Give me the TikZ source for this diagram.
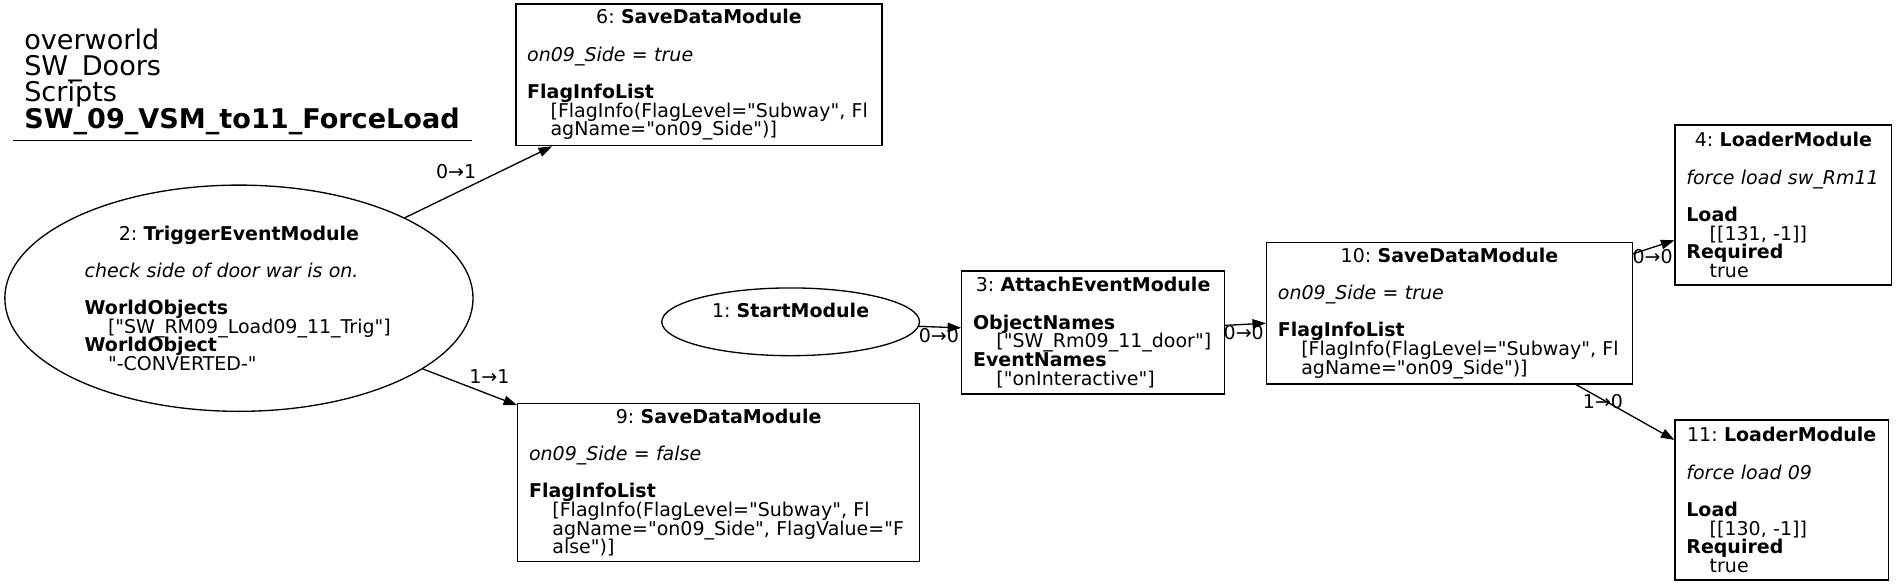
\documentclass[tikz,border=0pt]{standalone}
\usepackage{fontspec}
\setmainfont{DejaVu Sans}[Ligatures=TeXOff, ItalicFont={DejaVu Sans Oblique}, BoldFont={DejaVu Sans Bold}]
\usepackage{tikz}
\usetikzlibrary{shapes.geometric, arrows.meta}

\newcommand{\Mfont}{\fontsize{15.7pt}{15.4pt}\selectfont\lineskiplimit=-100pt\frenchspacing}
\newcommand{\Tfont}{\fontsize{22.4pt}{21.8pt}\selectfont\lineskiplimit=-100pt}
\newcommand{\Mhead}[2]{\hspace*{\fill}\mbox{#1: \textbf{#2}}\hspace*{\fill}\null}
\newcommand{\Mval}[1]{\hspace*{19.3pt}\mbox{#1}}
\newcommand{\Mnote}[1]{\mbox{\itshape #1}}
\newcommand{\Mgap}{\\[15.4pt]}

\begin{document}
\begin{tikzpicture}[x=1pt, y=-1pt, line width=1.1pt,
    every node/.style={font=\Mfont},
    modbox/.style={draw, rectangle, inner sep=0pt, align=left},
    modoval/.style={draw, ellipse, inner sep=0pt},
    flow/.style={-{Triangle[length=11.2pt, width=7.8pt]}},
    elabel/.style={inner sep=0pt}]
  \useasboundingbox (0,0) rectangle (1568,483.5);

  % ------------------------------------------------
  % script title, top left
  % ------------------------------------------------
  \node[font=\Tfont, align=left, inner sep=0pt, anchor=north west] (title) at (19.5,23.1)
    {overworld\\SW\_Doors\\Scripts\\\textbf{SW\_09\_VSM\_to11\_ForceLoad}};
  \draw (11,116) -- (390,116);

  % ------------------------------------------------
  % modules
  % ------------------------------------------------
  \node[modoval, minimum width=387pt, minimum height=187pt, text width=255pt, align=left] (trig) at (197.5,246.5)
    {\Mhead{2}{TriggerEventModule}\Mgap
     \Mnote{check side of door war is on.}\Mgap
     \textbf{WorldObjects}\\
     \Mval{["SW\_RM09\_Load09\_11\_Trig"]}\\
     \textbf{WorldObject}\\
     \Mval{"-CONVERTED-"}};

  \node[modoval, minimum width=213pt, minimum height=56pt, align=center] (start) at (653.5,266)
    {1: \textbf{StartModule}\\\rule[-3.7pt]{0pt}{3.7pt}};

  \node[modbox, minimum width=302.5pt, minimum height=117.1pt, text width=283.9pt] (saveA) at (577.75,61.85)
    {\Mhead{6}{SaveDataModule}\Mgap
     \Mnote{on09\_Side = true}\Mgap
     \textbf{FlagInfoList}\\
     \Mval{[FlagInfo(FlagLevel="Subway", Fl}\\
     \Mval{agName="on09\_Side")]}};

  \node[modbox, minimum width=332pt, minimum height=130.9pt, text width=313.4pt] (saveB) at (594,398.85)
    {\Mhead{9}{SaveDataModule}\Mgap
     \Mnote{on09\_Side = false}\Mgap
     \textbf{FlagInfoList}\\
     \Mval{[FlagInfo(FlagLevel="Subway", Fl}\\
     \Mval{agName="on09\_Side", FlagValue="F}\\
     \Mval{alse")]}};

  \node[modbox, minimum width=217pt, minimum height=101.7pt, text width=198.4pt] (attach) at (903.5,274.85)
    {\Mhead{3}{AttachEventModule}\Mgap
     \textbf{ObjectNames}\\
     \Mval{["SW\_Rm09\_11\_door"]}\\
     \textbf{EventNames}\\
     \Mval{["onInteractive"]}};

  \node[modbox, minimum width=302.2pt, minimum height=116.8pt, text width=283.6pt] (saveC) at (1198.1,259)
    {\Mhead{10}{SaveDataModule}\Mgap
     \Mnote{on09\_Side = true}\Mgap
     \textbf{FlagInfoList}\\
     \Mval{[FlagInfo(FlagLevel="Subway", Fl}\\
     \Mval{agName="on09\_Side")]}};

  \node[modbox, minimum width=179pt, minimum height=132.3pt, text width=160.4pt] (loadA) at (1474.1,169.45)
    {\Mhead{4}{LoaderModule}\Mgap
     \Mnote{force load sw\_Rm11}\Mgap
     \textbf{Load}\\
     \Mval{[[131, -1]]}\\
     \textbf{Required}\\
     \Mval{true}};

  \node[modbox, minimum width=176.2pt, minimum height=132.2pt, text width=157.6pt] (loadB) at (1472.7,413.3)
    {\Mhead{11}{LoaderModule}\Mgap
     \Mnote{force load 09}\Mgap
     \textbf{Load}\\
     \Mval{[[130, -1]]}\\
     \textbf{Required}\\
     \Mval{true}};

  % ------------------------------------------------
  % links with their port labels
  % ------------------------------------------------
  \draw[flow] (trig) -- (saveA);
  \draw[flow] (trig) -- (saveB);
  \draw[flow] (start) -- (attach);
  \draw[flow] (attach) -- (saveC);
  \draw[flow] (saveC) -- (loadA);
  \draw[flow] (saveC) -- (loadB);

  \node[elabel] (pTrigA) at (377,142) {0→1};
  \node[elabel] (pTrigB) at (404.5,311) {1→1};
  \node[elabel] (pStart) at (776,277.7) {0→0};
  \node[elabel] (pAttach) at (1028,275) {0→0};
  \node[elabel] (pSaveA) at (1366,212) {0→0};
  \node[elabel] (pSaveB) at (1325,332) {1→0};
\end{tikzpicture}
\end{document}
